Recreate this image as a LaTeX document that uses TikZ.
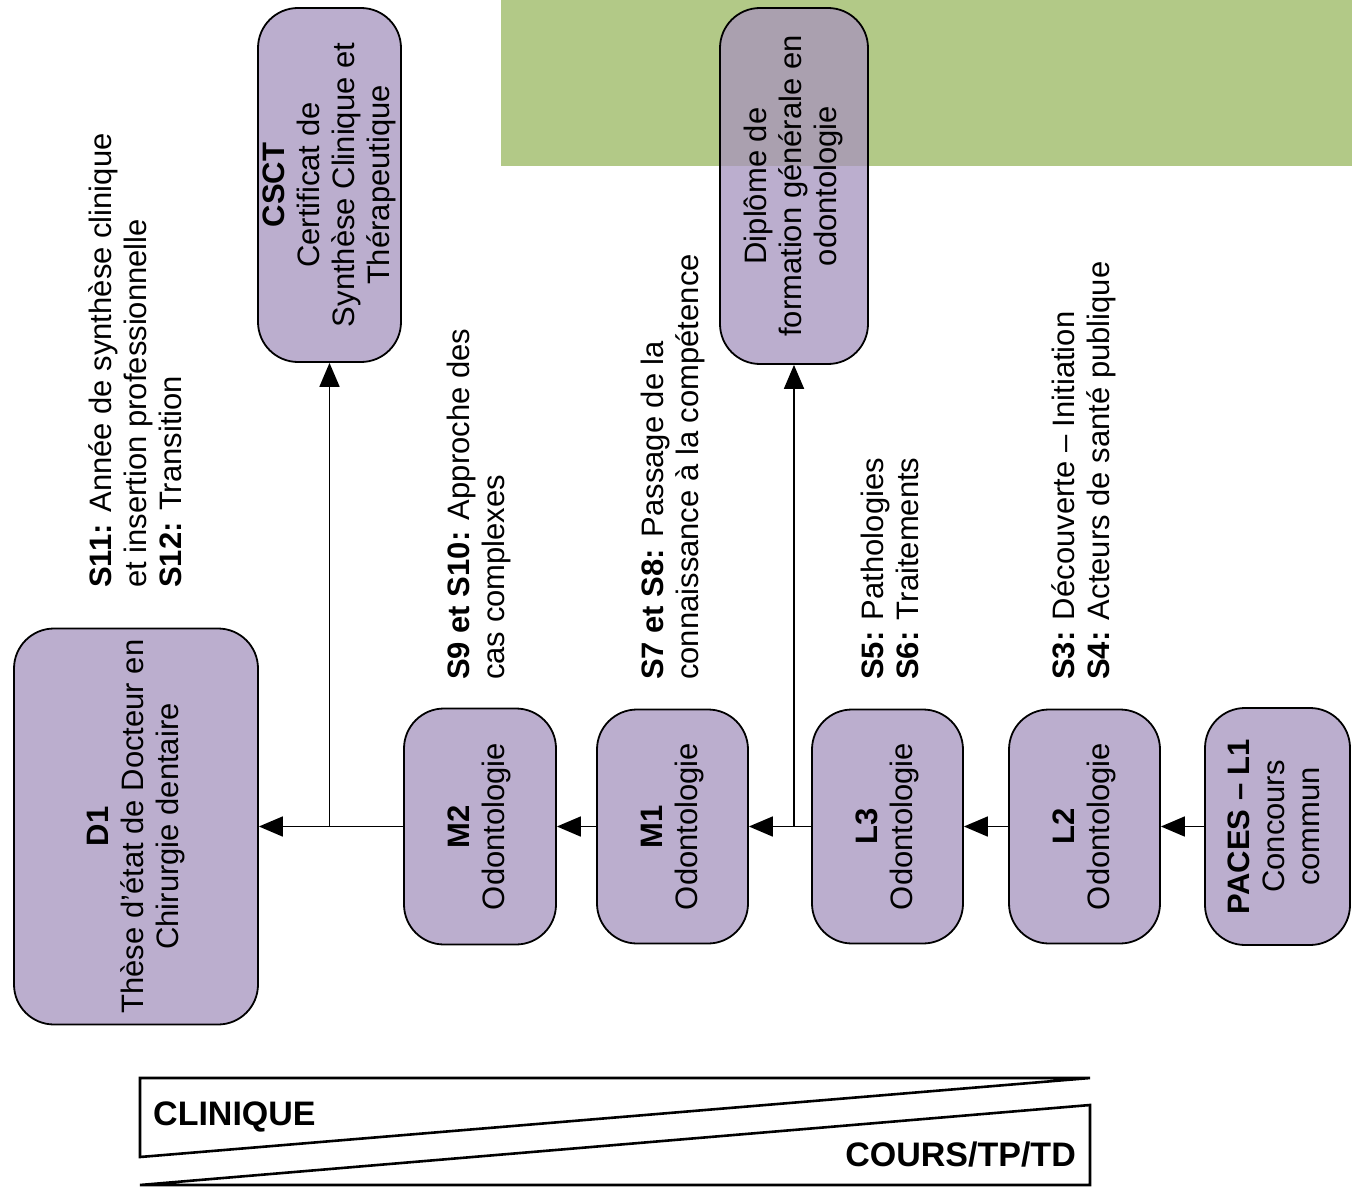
\documentclass[tikz,border=0pt]{standalone}
\usepackage{fontspec}
\setmainfont{Liberation Sans}
\usetikzlibrary{arrows.meta}
\definecolor{boxfill}{HTML}{BBAECE}
\definecolor{greenband}{HTML}{B2C987}
\definecolor{overlapc}{HTML}{AAA0AF}
\newcommand{\rtxt}[1]{\rotatebox{90}{\begin{tabular}{@{}c@{}}#1\end{tabular}}}
\newcommand{\ltxt}[1]{\rotatebox{90}{\begin{tabular}{@{}l@{}}#1\end{tabular}}}
\begin{document}
\begin{tikzpicture}[x=1pt,y=-1pt,
  stage/.style={draw=black, line width=1.8pt, fill=boxfill, rounded corners=40pt,
    inner sep=0pt, font=\fontsize{31}{35}\selectfont},
  lbl/.style={inner sep=0pt, anchor=south west, font=\fontsize{31}{35}\selectfont},
  arr/.style={line width=1.8pt, -{Triangle[length=24pt,width=20pt]}},
  bar/.style={line width=2.6pt, line join=miter}]
\useasboundingbox (0,0) rectangle (1352,1193);
\fill[white] (0,0) rectangle (1352,1193);
\fill[greenband] (501,0) rectangle (1352,166);

% boxes
\node[stage, minimum width=244pt, minimum height=396pt] (D1) at (136,826.5)
  {\rtxt{\textbf{D1}\\Thèse d’état de  Docteur en\\Chirurgie dentaire}};
\node[stage, minimum width=143pt, minimum height=354pt] (CSCT) at (329.5,185)
  {\rtxt{\textbf{CSCT}\\Certificat de\\Synthèse Clinique et\\Thérapeutique}};
\node[stage, minimum width=148pt, minimum height=356pt,
  path picture={\fill[overlapc, sharp corners] ([yshift=20pt,xshift=-10pt]path picture bounding box.north west)
     rectangle ([yshift=-158pt,xshift=10pt]path picture bounding box.north east);}] (DFG) at (794,186)
  {\rtxt{Diplôme de\\formation générale en\\odontologie}};
\node[stage, minimum width=152pt, minimum height=236pt] (M2) at (480,826.5)
  {\rtxt{\textbf{M2}\\Odontologie}};
\node[stage, minimum width=151pt, minimum height=234pt] (M1) at (672.5,826.5)
  {\rtxt{\textbf{M1}\\Odontologie}};
\node[stage, minimum width=151pt, minimum height=234pt] (L3) at (887.5,826.5)
  {\rtxt{\textbf{L3}\\Odontologie}};
\node[stage, minimum width=151pt, minimum height=234pt] (L2) at (1084.5,826.5)
  {\rtxt{\textbf{L2}\\Odontologie}};
\node[stage, minimum width=145pt, minimum height=237pt] (PACES) at (1277.5,826.5)
  {\rtxt{\textbf{PACES – L1}\\Concours\\commun}};

% labels
\node[lbl] (t11) at (86.5,588)
  {\ltxt{\textbf{S11:} Année de synthèse clinique\\et insertion professionnelle\\\textbf{S12:} Transition}};
\node[lbl] (t9) at (444.5,680)
  {\ltxt{\textbf{S9 et S10:} Approche des\\cas complexes}};
\node[lbl] (t7) at (638.5,680)
  {\ltxt{\textbf{S7 et S8:} Passage de la\\connaissance à la compétence}};
\node[lbl] (t5) at (858.5,680)
  {\ltxt{\textbf{S5:}  Pathologies\\\textbf{S6:}  Traitements}};
\node[lbl] (t3) at (1049.5,680)
  {\ltxt{\textbf{S3:} Découverte – Initiation\\\textbf{S4:} Acteurs de santé publique}};

% connectors
\draw[arr] (PACES.west) -- (L2.east);
\draw[arr] (L2.west) -- (L3.east);
\draw[arr] (L3.west) -- (M1.east);
\draw[arr] (M1.west) -- (M2.east);
\draw[arr] (M2.west) -- (D1.east);
\draw[arr] (L3.west -| DFG.south) -- (DFG.south);
\draw[arr] (M2.west -| CSCT.south) -- (CSCT.south);

% bottom bar
\draw[bar] (140,1078) -- (1090,1078) -- (140,1157) -- cycle;
\draw[bar] (1090,1105) -- (1090,1185) -- (140,1185) -- cycle;
\node[inner sep=0pt, anchor=base west, font=\fontsize{34}{38}\selectfont\bfseries] (clin) at (153,1125) {CLINIQUE};
\node[inner sep=0pt, anchor=base east, font=\fontsize{34}{38}\selectfont\bfseries] (cours) at (1076,1166) {COURS/TP/TD};
\end{tikzpicture}
\end{document}
